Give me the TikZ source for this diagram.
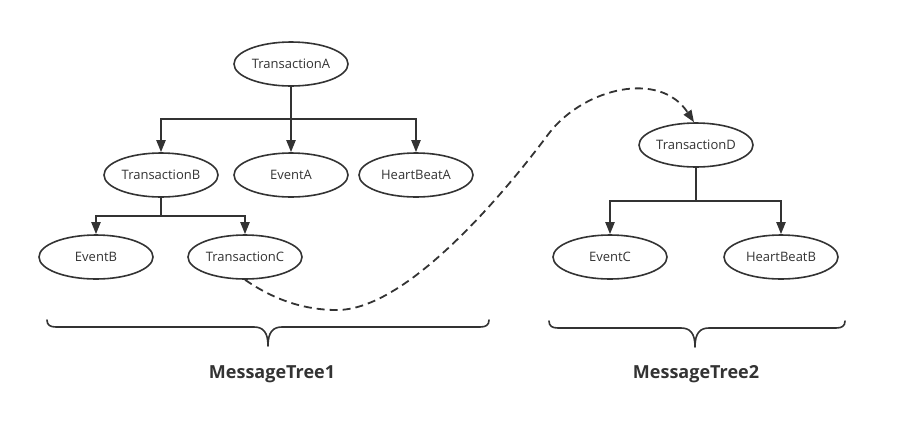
\documentclass[tikz,border=0pt]{standalone}
\usepackage{fontspec}
\setmainfont{Open Sans}
\usetikzlibrary{shapes.geometric,arrows.meta}
\definecolor{ink}{HTML}{333333}
\tikzset{
  tnode/.style={ellipse, draw=ink, line width=1.6pt, minimum width=114pt, minimum height=44pt, inner sep=0pt, text=ink, font=\fontsize{13pt}{15pt}\selectfont},
  edge/.style={draw=ink, line width=2pt, -{Triangle[length=12pt,width=9pt]}},
  trunk/.style={draw=ink, line width=2pt},
  dashlink/.style={draw=ink, line width=1.8pt, dash pattern=on 8pt off 5pt, -{Triangle[length=12pt,width=9pt]}},
  bracepath/.style={draw=ink, line width=1.6pt, line cap=round, line join=round},
  treelabel/.style={text=ink, font=\bfseries\fontsize{18pt}{21pt}\selectfont}
}
\begin{document}
\begin{tikzpicture}[x=1pt,y=-1pt]
\useasboundingbox (0,0) rectangle (909,421);
% nodes
\node[tnode] (ta) at (291,64) {TransactionA};
\node[tnode] (tb) at (161,175) {TransactionB};
\node[tnode] (ea) at (291,175) {EventA};
\node[tnode] (hba) at (416,175) {HeartBeatA};
\node[tnode] (eb) at (96,257) {EventB};
\node[tnode] (tc) at (245,257) {TransactionC};
\node[tnode] (td) at (696,145) {TransactionD};
\node[tnode] (ec) at (610,257) {EventC};
\node[tnode] (hbb) at (781,257) {HeartBeatB};
% junctions
\coordinate (j1) at (291,119);
\coordinate (j2) at (161,216);
\coordinate (j3) at (696,201);
% tree 1
\draw[trunk] (ta) -- (j1);
\draw[edge] (j1) -| (tb);
\draw[edge] (j1) -- (ea);
\draw[edge] (j1) -| (hba);
\draw[trunk] (tb) -- (j2);
\draw[edge] (j2) -| (eb);
\draw[edge] (j2) -| (tc);
% tree 2
\draw[trunk] (td) -- (j3);
\draw[edge] (j3) -| (ec);
\draw[edge] (j3) -| (hbb);
% dashed link
\draw[dashlink] (tc.south) .. controls (270,297) and (300,310) .. (337,310)
  .. controls (420,310) and (540,145) .. (550,132)
  .. controls (585,88) and (660,70) .. (td.95);
% braces
\draw[bracepath] (47,320) .. controls (47,325) and (50,327) .. (56,327) -- (254,327)
  .. controls (263,327) and (268,332) .. (268,346)
  .. controls (268,332) and (273,327) .. (282,327) -- (480,327)
  .. controls (486,327) and (489,325) .. (489,320);
\draw[bracepath] (549,321) .. controls (549,326) and (552,328) .. (558,328) -- (681,328)
  .. controls (690,328) and (695,333) .. (695,347)
  .. controls (695,333) and (700,328) .. (709,328) -- (836,328)
  .. controls (842,328) and (845,326) .. (845,321);
% labels
\node[treelabel] (m1) at (272,374) {MessageTree1};
\node[treelabel] (m2) at (696,374) {MessageTree2};
\end{tikzpicture}
\end{document}
